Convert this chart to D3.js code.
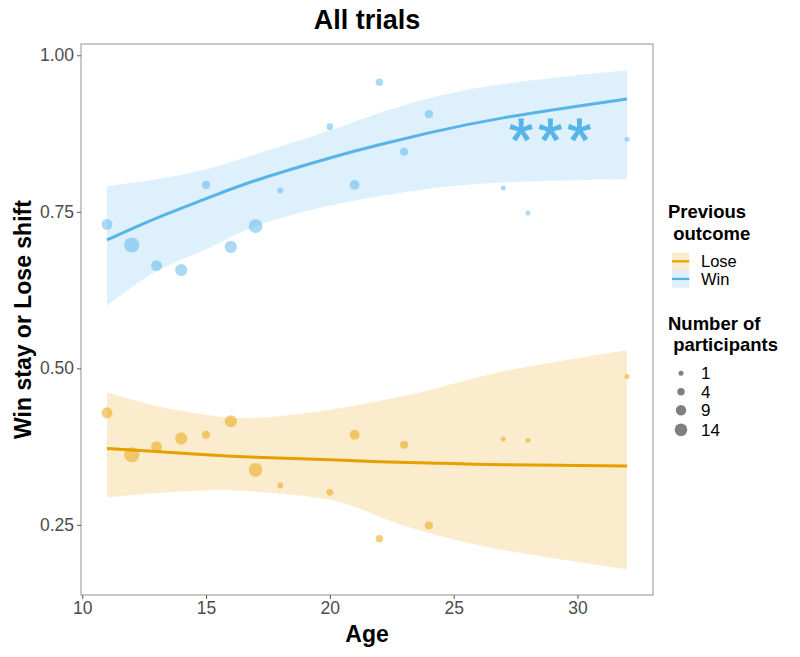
<!DOCTYPE html>
<html>
<head>
<meta charset="utf-8">
<script src="https://cdn.jsdelivr.net/npm/d3@7"></script>
<style>
  body { margin: 0; background: #fff; }
  svg { display: block; font-family: "Liberation Sans", Arial, Helvetica, sans-serif; }
</style>
</head>
<body>
<svg id="chart" width="800" height="657"></svg>
<script>
// ---- Data ----
const ages = [11, 12, 13, 14, 15, 16, 17, 18, 20, 21, 22, 23, 24, 27, 28, 32];
const participants = [10, 21, 10, 13, 5, 13, 17, 2, 3, 8, 4, 5, 5, 1, 1, 1];
const winStay = [0.730, 0.697, 0.664, 0.657, 0.793, 0.694, 0.727, 0.784, 0.886, 0.793, 0.957, 0.846, 0.906, 0.788, 0.748, 0.866];
const loseShift = [0.429, 0.362, 0.375, 0.388, 0.394, 0.4155, 0.338, 0.313, 0.302, 0.394, 0.228, 0.378, 0.249, 0.387, 0.385, 0.487];

const fitAges = [11, 13, 15, 17, 20, 22, 24, 27, 32];
const winFit = [0.705, 0.740, 0.771, 0.800, 0.836, 0.857, 0.876, 0.900, 0.930];
const winUpper = [0.791, 0.802, 0.818, 0.842, 0.880, 0.908, 0.931, 0.954, 0.976];
const winLower = [0.600, 0.655, 0.690, 0.727, 0.760, 0.775, 0.787, 0.797, 0.802];
const loseFit = [0.372, 0.367, 0.362, 0.358, 0.354, 0.351, 0.349, 0.346, 0.344];
const loseUpper = [0.462, 0.440, 0.426, 0.421, 0.434, 0.448, 0.465, 0.495, 0.529];
const loseLower = [0.294, 0.301, 0.305, 0.303, 0.290, 0.263, 0.237, 0.210, 0.179];

const xTicks = [10, 15, 20, 25, 30];
const yTicks = [0.25, 0.50, 0.75, 1.00];
const outcomes = ["Lose", "Win"];
const outcomeColors = ["#E69F00", "#56B4E9"];
const sizeBreaks = [1, 4, 9, 14];
const annotation = { age: 28.9, value: 0.879, label: "***" };

// ---- Layout ----
const svg = d3.select("#chart");
const panel = { left: 81, right: 653, top: 44, bottom: 595 };
const x = d3.scaleLinear().domain([9.95, 33.05]).range([panel.left, panel.right]);
const y = d3.scaleLinear().domain([0.138, 1.018]).range([panel.bottom, panel.top]);
const r = d3.scaleRadial().domain([1, 14]).range([2.5, 6.3]);
const color = d3.scaleOrdinal().domain(outcomes).range(outcomeColors);

const font = '"Liberation Sans", Arial, Helvetica, sans-serif';

// Title
svg.append("text").attr("x", (panel.left + panel.right) / 2).attr("y", 29)
  .attr("text-anchor", "middle").attr("font-size", 27).attr("font-weight", "bold")
  .attr("fill", "#000").text("All trials");

// Ribbons
const fitRows = fitAges.map((a, i) => ({
  age: a, winFit: winFit[i], winUpper: winUpper[i], winLower: winLower[i],
  loseFit: loseFit[i], loseUpper: loseUpper[i], loseLower: loseLower[i]
}));
const series = [
  { key: "Lose", fit: "loseFit", lo: "loseLower", hi: "loseUpper", pts: loseShift },
  { key: "Win", fit: "winFit", lo: "winLower", hi: "winUpper", pts: winStay }
];

const area = (s) => d3.area().curve(d3.curveNatural)
  .x(d => x(d.age)).y0(d => y(d[s.lo])).y1(d => y(d[s.hi]));
const line = (s) => d3.line().curve(d3.curveNatural)
  .x(d => x(d.age)).y(d => y(d[s.fit]));

const gPlot = svg.append("g");
series.forEach(s => {
  gPlot.append("path").datum(fitRows).attr("d", area(s))
    .attr("fill", color(s.key)).attr("fill-opacity", 0.2);
});
series.forEach(s => {
  gPlot.selectAll(null).data(ages.map((a, i) => ({ age: a, v: s.pts[i], n: participants[i] })))
    .enter().append("circle")
    .attr("cx", d => x(d.age)).attr("cy", d => y(d.v)).attr("r", d => r(d.n))
    .attr("fill", color(s.key)).attr("fill-opacity", 0.5);
});
series.forEach(s => {
  gPlot.append("path").datum(fitRows).attr("d", line(s))
    .attr("fill", "none").attr("stroke", color(s.key)).attr("stroke-width", 3);
});

// Annotation
const annFs = 62, annLs = 5;
svg.append("text").attr("x", x(annotation.age) + annLs / 2).attr("y", y(annotation.value) + 0.48 * annFs)
  .attr("text-anchor", "middle").attr("font-size", annFs).attr("letter-spacing", annLs)
  .attr("fill", "#56B4E9").attr("stroke", "#56B4E9").attr("stroke-width", 1)
  .text(annotation.label);

// Panel border
svg.append("rect").attr("x", panel.left).attr("y", panel.top)
  .attr("width", panel.right - panel.left).attr("height", panel.bottom - panel.top)
  .attr("fill", "none").attr("stroke", "#a6a6a6").attr("stroke-width", 1.2);

// Axes
const xAxis = svg.append("g").attr("transform", `translate(0,${panel.bottom})`)
  .call(d3.axisBottom(x).tickValues(xTicks).tickSize(4).tickPadding(3).tickFormat(d3.format("d")));
const yAxis = svg.append("g").attr("transform", `translate(${panel.left},0)`)
  .call(d3.axisLeft(y).tickValues(yTicks).tickSize(4).tickPadding(3).tickFormat(d3.format(".2f")));
[xAxis, yAxis].forEach(g => {
  g.select(".domain").remove();
  g.selectAll(".tick line").attr("stroke", "#555");
  g.selectAll(".tick text").attr("fill", "#4D4D4D").attr("font-size", 17.5).attr("font-family", font);
});

// Axis titles
svg.append("text").attr("x", (panel.left + panel.right) / 2).attr("y", 642)
  .attr("text-anchor", "middle").attr("font-size", 23).attr("font-weight", "bold").text("Age");
svg.append("text").attr("transform", `translate(31,${(panel.top + panel.bottom) / 2}) rotate(-90)`)
  .attr("text-anchor", "middle").attr("font-size", 23).attr("font-weight", "bold").text("Win stay or Lose shift");

// Legend: Previous outcome
const lg = svg.append("g");
lg.append("text").attr("x", 668).attr("y", 218).attr("font-size", 18.5).attr("font-weight", "bold").text("Previous");
lg.append("text").attr("x", 668).attr("y", 240).attr("font-size", 18.5).attr("font-weight", "bold")
  .attr("xml:space", "preserve").text(" outcome");
const keyH = 17.6;
outcomes.forEach((o, i) => {
  const ky = 252.5 + i * keyH;
  lg.append("rect").attr("x", 672).attr("y", ky).attr("width", 17.3).attr("height", keyH)
    .attr("fill", color(o)).attr("fill-opacity", 0.2);
  lg.append("line").attr("x1", 672).attr("x2", 689.3).attr("y1", ky + keyH / 2).attr("y2", ky + keyH / 2)
    .attr("stroke", color(o)).attr("stroke-width", 2.2);
  lg.append("text").attr("x", 701).attr("y", ky + keyH / 2 + 5.8).attr("font-size", 16.5).text(o);
});

// Legend: Number of participants
lg.append("text").attr("x", 668).attr("y", 330).attr("font-size", 18.5).attr("font-weight", "bold").text("Number of");
lg.append("text").attr("x", 668).attr("y", 351).attr("font-size", 18.5).attr("font-weight", "bold")
  .attr("xml:space", "preserve").text(" participants");
let cy = 364;
sizeBreaks.forEach(b => {
  const h = Math.max(18.5, 2 * r(b) + 8);
  const c = cy + h / 2;
  lg.append("circle").attr("cx", 681).attr("cy", c).attr("r", r(b)).attr("fill", "#000").attr("fill-opacity", 0.5);
  lg.append("text").attr("x", 701).attr("y", c + 6).attr("font-size", 17).text(b);
  cy += h;
});
</script>
</body>
</html>
